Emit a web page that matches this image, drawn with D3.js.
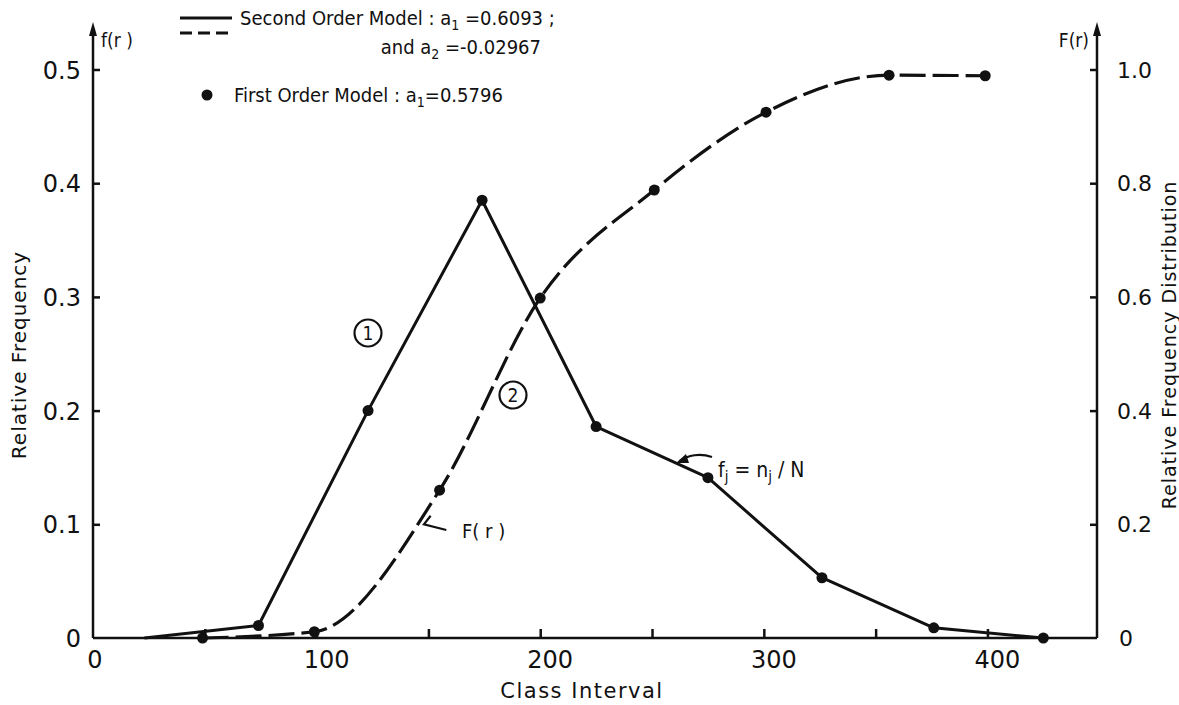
<!DOCTYPE html>
<html><head><meta charset="utf-8">
<script src="https://cdn.jsdelivr.net/npm/d3@7"></script>
<style>
html,body{margin:0;padding:0;background:#fff;}
svg text{font-family:"DejaVu Sans",sans-serif;fill:#111;}
svg text.cond{font-family:"DejaVu Sans Condensed","DejaVu Sans",sans-serif;}
</style></head>
<body><svg id="c" width="1179" height="705"></svg>
<script>
// ---- data ----
const fX = [23, 74, 123, 174, 225, 275, 326, 376, 425];           // class interval (solid line, f(r))
const fY = [0, 0.011, 0.2, 0.385, 0.186, 0.141, 0.053, 0.009, 0];   // relative frequency
const fDotX = [74, 123, 174, 225, 275, 326, 376, 425];
const fDotY = [0.011, 0.2, 0.385, 0.186, 0.141, 0.053, 0.009, 0];
const FX = [49, 99, 155, 200, 251, 301, 356, 399];                 // dashed curve, F(r)
const FY = [0, 0.011, 0.26, 0.598, 0.788, 0.925, 0.99, 0.989];
const xTicks = [50, 100, 150, 200, 250, 300, 350, 400];
const xTickLabels = [0, 100, 200, 300, 400];
const yLeftTicks = [0, 0.1, 0.2, 0.3, 0.4, 0.5];
const yRightTicks = [0, 0.2, 0.4, 0.6, 0.8, 1.0];

const svg = d3.select("#c");
const ink = "#111";
const x = d3.scaleLinear().domain([0, 449]).range([93, 1097]);
const yL = d3.scaleLinear().domain([0, 0.5]).range([638, 69.5]);
const yR = d3.scaleLinear().domain([0, 1]).range([638, 69.5]);

// frame: bottom axis, left and right axes with arrowheads
const g = svg.append("g");
g.append("line").attr("x1", x(0)).attr("x2", x(449)).attr("y1", yL(0)).attr("y2", yL(0))
  .attr("stroke", ink).attr("stroke-width", 2.5);
[x(0), x(449)].forEach(px => {
  g.append("line").attr("x1", px).attr("x2", px).attr("y1", yL(0)).attr("y2", 28)
    .attr("stroke", ink).attr("stroke-width", 2.5);
  g.append("path").attr("d", `M${px-4},36 L${px},22 L${px+4},36 Z`).attr("fill", ink);
});

// x ticks (inward) and labels
const xAxis = d3.axisBottom(x).tickValues(xTicks).tickSize(-9).tickFormat("");
svg.append("g").attr("transform", `translate(0,${yL(0)})`).call(xAxis)
  .call(a => { a.select(".domain").remove(); a.selectAll("line").attr("stroke", ink).attr("stroke-width", 2.5); });
svg.append("g").selectAll("text").data(xTickLabels).join("text")
  .attr("x", d => x(d) + (d === 0 ? 2 : 10)).attr("y", 668).attr("text-anchor", "middle")
  .attr("font-size", 24).text(d => d);

// left ticks
const yAxisL = d3.axisRight(yL).tickValues(yLeftTicks.slice(1)).tickSize(7).tickFormat("");
svg.append("g").attr("transform", `translate(${x(0)},0)`).call(yAxisL)
  .call(a => { a.select(".domain").remove(); a.selectAll("line").attr("stroke", ink).attr("stroke-width", 2.5); });
svg.append("g").selectAll("text").data(yLeftTicks).join("text")
  .attr("x", 81).attr("y", d => yL(d) + 9).attr("text-anchor", "end")
  .attr("font-size", 24).text(d => d === 0 ? "0" : d.toFixed(1));

// right ticks
const yAxisR = d3.axisLeft(yR).tickValues(yRightTicks.slice(1)).tickSize(7).tickFormat("");
svg.append("g").attr("transform", `translate(${x(449)},0)`).call(yAxisR)
  .call(a => { a.select(".domain").remove(); a.selectAll("line").attr("stroke", ink).attr("stroke-width", 2.5); });
svg.append("g").selectAll("text").data(yRightTicks).join("text")
  .attr("x", d => d === 0 ? 1119 : 1117).attr("y", d => yR(d) + 8).attr("text-anchor", "start")
  .attr("font-size", 22).text(d => d === 0 ? "0" : d.toFixed(1));

// axis titles
svg.append("text").attr("x", 582).attr("y", 698).attr("text-anchor", "middle")
  .attr("font-size", 21).attr("letter-spacing", 1.5).text("Class Interval");
svg.append("text").attr("transform", "translate(26,355) rotate(-90)").attr("text-anchor", "middle")
  .attr("font-size", 20).attr("letter-spacing", 1).text("Relative Frequency");
svg.append("text").attr("transform", "translate(1176,345) rotate(-90)").attr("text-anchor", "middle")
  .attr("font-size", 19).attr("letter-spacing", 1).text("Relative Frequency Distribution");
svg.append("text").attr("class", "cond").attr("x", 101).attr("y", 47).attr("font-size", 19).text("f(r )");
svg.append("text").attr("class", "cond").attr("x", 1089).attr("y", 47).attr("text-anchor", "end").attr("font-size", 19).text("F(r)");

// solid line f(r)
const fData = fX.map((v, i) => [v, fY[i]]);
svg.append("path").datum(fData)
  .attr("d", d3.line().x(d => x(d[0])).y(d => yL(d[1])))
  .attr("fill", "none").attr("stroke", ink).attr("stroke-width", 3).attr("stroke-linejoin", "round");

// dashed curve F(r)
const FData = FX.map((v, i) => [v, FY[i]]);
svg.append("path").datum(FData)
  .attr("d", d3.line().x(d => x(d[0])).y(d => yR(d[1])).curve(d3.curveMonotoneX))
  .attr("fill", "none").attr("stroke", ink).attr("stroke-width", 3.2)
  .attr("stroke-dasharray", "26,7");

// dots (first order model)
svg.append("g").selectAll("circle").data(fDotX.map((v, i) => [v, fDotY[i]])).join("circle")
  .attr("cx", d => x(d[0])).attr("cy", d => yL(d[1])).attr("r", 5.5).attr("fill", ink);
svg.append("g").selectAll("circle").data(FData).join("circle")
  .attr("cx", d => x(d[0])).attr("cy", d => yR(d[1])).attr("r", 5.5).attr("fill", ink);

// circled curve numbers
[[368, 333, "1"], [513, 395, "2"]].forEach(([cx, cy, t]) => {
  svg.append("circle").attr("cx", cx).attr("cy", cy).attr("r", 13.5).attr("fill", "none")
    .attr("stroke", ink).attr("stroke-width", 2.2);
  svg.append("text").attr("class", "cond").attr("x", cx).attr("y", cy + 7).attr("text-anchor", "middle")
    .attr("font-size", 19).text(t);
});

// annotation f_j = n_j / N
svg.append("path").attr("d", "M712,457 C700,453 688,455 680,461")
  .attr("fill", "none").attr("stroke", ink).attr("stroke-width", 2.2);
svg.append("path").attr("d", "M676,463 L686,454 L689,463 Z").attr("fill", ink);
const ann = svg.append("text").attr("class", "cond").attr("x", 718).attr("y", 477).attr("font-size", 21);
ann.append("tspan").text("f");
ann.append("tspan").attr("font-size", 15).attr("dy", 5).text("j");
ann.append("tspan").attr("dy", -5).text(" = n");
ann.append("tspan").attr("font-size", 15).attr("dy", 5).text("j");
ann.append("tspan").attr("dy", -5).text(" / N");

// annotation F(r)
svg.append("path").attr("d", `M${x(151)},${yR(0.215)} L${x(148)},${yR(0.2)} L${x(158)},${yR(0.19)}`)
  .attr("fill", "none").attr("stroke", ink).attr("stroke-width", 2.2);
svg.append("text").attr("class", "cond").attr("x", 462).attr("y", 538).attr("font-size", 20).text("F( r )");

// legend
svg.append("line").attr("x1", 180).attr("x2", 232).attr("y1", 18).attr("y2", 18)
  .attr("stroke", ink).attr("stroke-width", 3);
svg.append("line").attr("x1", 180).attr("x2", 232).attr("y1", 33).attr("y2", 33)
  .attr("stroke", ink).attr("stroke-width", 3).attr("stroke-dasharray", "12,6");
const l1 = svg.append("text").attr("class", "cond").attr("x", 240).attr("y", 25).attr("font-size", 20);
l1.append("tspan").text("Second Order Model : a");
l1.append("tspan").attr("font-size", 14).attr("dy", 5).text("1");
l1.append("tspan").attr("dy", -5).text(" =0.6093 ;");
const l2 = svg.append("text").attr("class", "cond").attr("x", 541).attr("y", 54).attr("font-size", 20).attr("text-anchor", "end");
l2.append("tspan").text("and a");
l2.append("tspan").attr("font-size", 14).attr("dy", 5).text("2");
l2.append("tspan").attr("dy", -5).text(" =-0.02967");
svg.append("circle").attr("cx", 207).attr("cy", 95).attr("r", 5.5).attr("fill", ink);
const l3 = svg.append("text").attr("class", "cond").attr("x", 234).attr("y", 102).attr("font-size", 20);
l3.append("tspan").text("First Order Model : a");
l3.append("tspan").attr("font-size", 14).attr("dy", 5).text("1");
l3.append("tspan").attr("dy", -5).text("=0.5796");
</script></body></html>
